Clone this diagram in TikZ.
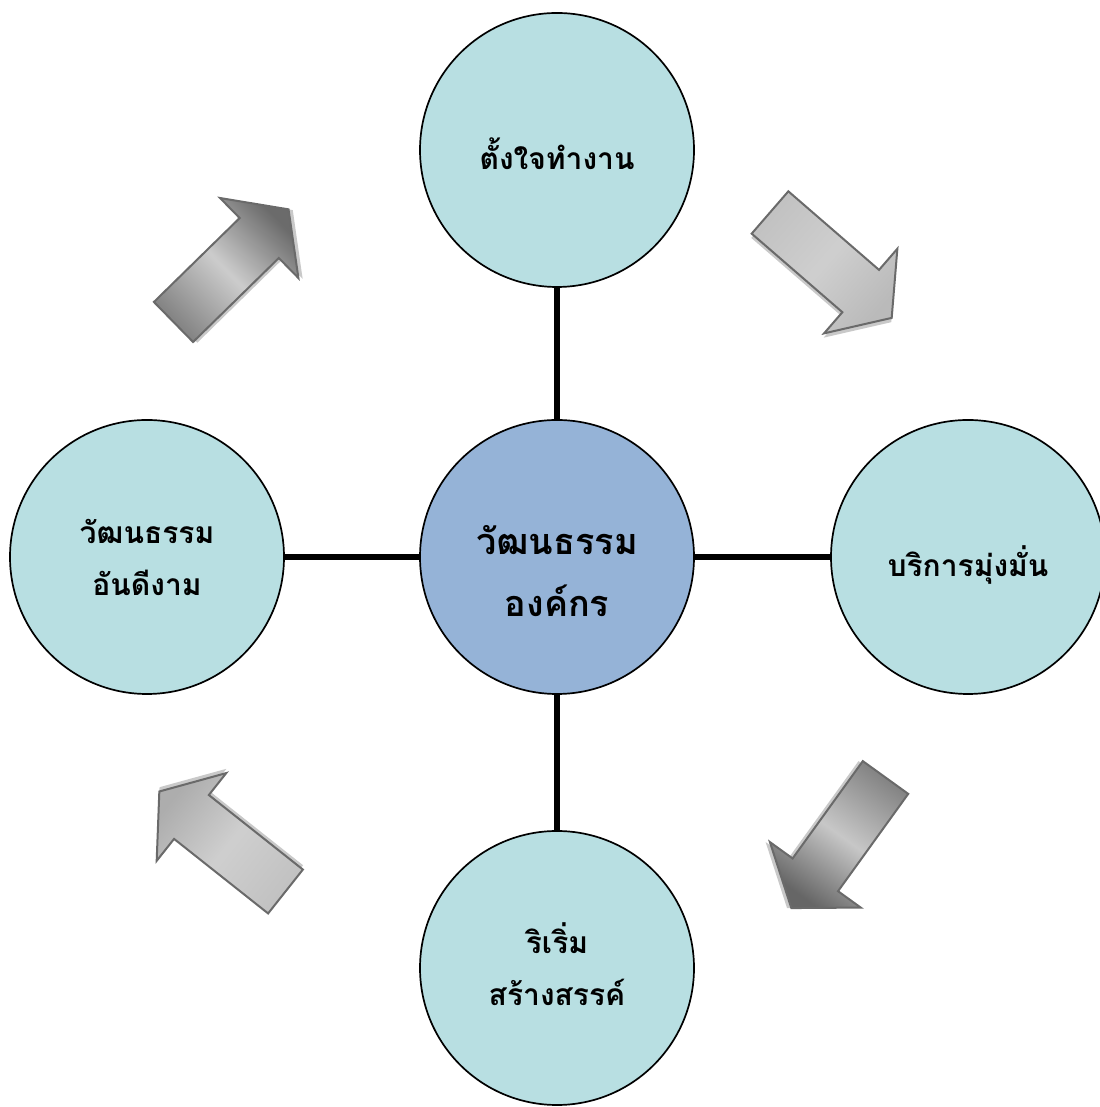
\documentclass[tikz,border=0pt]{standalone}
\usepackage{fontspec}
\newfontfamily\thaifont[Script=Thai]{Loma}
\definecolor{outer}{HTML}{B8DFE2}
\definecolor{inner}{HTML}{95B3D7}
\definecolor{arrowline}{HTML}{6A6A6A}
\tikzset{
  bubble/.style={circle, draw=black, line width=1.7pt, minimum size=274pt, inner sep=0pt, fill=outer},
  hub/.style={bubble, fill=inner},
  smalltext/.style={font=\thaifont\bfseries\fontsize{30}{52}\selectfont, align=center},
  bigtext/.style={font=\thaifont\bfseries\fontsize{36}{62}\selectfont, align=center},
  spoke/.style={line width=6.5pt, black},
  pics/blockarrow/.style args={#1/#2/#3/#4}{code={
    \begin{scope}[rotate=#1]
      \fill[black!30, opacity=0.7, shift={(2.5,-3.5)}] (0,-28) -- (120,-28) -- (120,-56) -- (161,0) -- (120,56) -- (120,28) -- (0,28) -- cycle;
      \shade[draw=arrowline, line width=2pt, line join=miter, top color=#2, bottom color=#4, middle color=#3, shading angle=#1+90]
        (0,-28) -- (120,-28) -- (120,-56) -- (161,0) -- (120,56) -- (120,28) -- (0,28) -- cycle;
    \end{scope}
  }}
}
\begin{document}
\begin{tikzpicture}[x=1pt,y=1pt]
\useasboundingbox (0,0) rectangle (1099,1107);
\node[hub] (c) at (557,550) {};
\node[bubble] (t) at (557,957) {};
\node[bubble] (l) at (147,550) {};
\node[bubble] (r) at (968,550) {};
\node[bubble] (b) at (557,139) {};
\node[bigtext] (ct) at (557,536) {วัฒนธรรม\\องค์กร};
\node[smalltext] (tt) at (557,953) {ตั้งใจทำงาน};
\node[smalltext] (lt) at (147,550) {วัฒนธรรม\\อันดีงาม};
\node[smalltext] (rt) at (968,542) {บริการมุ่งมั่น};
\node[smalltext] (bt) at (557,143) {ริเริ่ม\\สร้างสรรค์};
\draw[spoke] (t) -- (c);
\draw[spoke] (l) -- (c);
\draw[spoke] (r) -- (c);
\draw[spoke] (b) -- (c);
\pic (a1) at (173.5,785) {blockarrow={44.4/black!48/black!20/black!58}};
\pic (a2) at (770,894.5) {blockarrow={-40.9/black!24/black!19/black!27}};
\pic (a3) at (885.5,329.5) {blockarrow={-125.8/black!48/black!22/black!60}};
\pic (a4) at (285.5,215.5) {blockarrow={141.6/black!24/black!19/black!32}};
\end{tikzpicture}
\end{document}
